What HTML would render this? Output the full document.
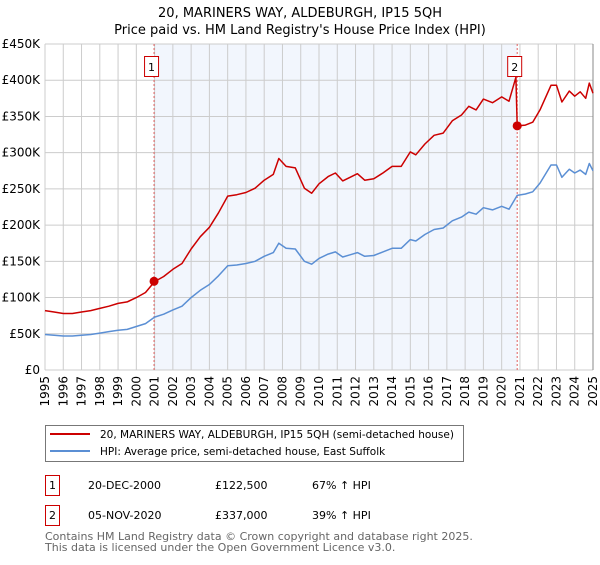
<!DOCTYPE html>
<html><head><meta charset="utf-8"><style>
body{margin:0;background:#fff;}
svg text{font-family:"DejaVu Sans","Liberation Sans",sans-serif;}
</style></head><body>
<svg id="chart" width="600" height="560" xmlns="http://www.w3.org/2000/svg">
<g id="plot"></g>
</svg>
<script>
const hpiYears=[1995.0,1995.5,1996.0,1996.5,1997.0,1997.5,1998.0,1998.5,1999.0,1999.5,2000.0,2000.5,2001.0,2001.5,2002.0,2002.5,2003.0,2003.5,2004.0,2004.5,2005.0,2005.5,2006.0,2006.5,2007.0,2007.5,2007.8,2008.2,2008.7,2009.2,2009.6,2010.0,2010.5,2010.9,2011.3,2011.7,2012.1,2012.5,2013.0,2013.5,2014.0,2014.5,2015.0,2015.3,2015.8,2016.3,2016.8,2017.3,2017.8,2018.2,2018.6,2019.0,2019.5,2020.0,2020.4,2020.85,2021.3,2021.7,2022.1,2022.7,2023.0,2023.3,2023.7,2024.0,2024.3,2024.6,2024.8,2025.0];
const hpiValues=[49,48,47,47,48,49,51,53,55,56,60,64,73,77,83,88,100,110,118,130,144,145,147,150,157,162,175,168,167,150,146,154,160,163,156,159,162,157,158,163,168,168,180,178,187,194,196,206,211,218,215,224,221,226,222,241,243,246,258,283,283,266,277,272,276,270,285,275];
const priceYears=[1995.0,1995.5,1996.0,1996.5,1997.0,1997.5,1998.0,1998.5,1999.0,1999.5,2000.0,2000.5,2001.0,2001.5,2002.0,2002.5,2003.0,2003.5,2004.0,2004.5,2005.0,2005.5,2006.0,2006.5,2007.0,2007.5,2007.8,2008.2,2008.7,2009.2,2009.6,2010.0,2010.5,2010.9,2011.3,2011.7,2012.1,2012.5,2013.0,2013.5,2014.0,2014.5,2015.0,2015.3,2015.8,2016.3,2016.8,2017.3,2017.8,2018.2,2018.6,2019.0,2019.5,2020.0,2020.4,2020.78,2020.85,2021.3,2021.7,2022.1,2022.7,2023.0,2023.3,2023.7,2024.0,2024.3,2024.6,2024.8,2025.0];
const priceValues=[82,80,78,78,80,82,85,88,92,94,100,107,122,129,139,147,167,184,197,217,240,242,245,251,262,270,292,281,279,251,244,257,267,272,261,266,271,262,264,272,281,281,301,297,312,324,327,344,352,364,359,374,369,377,371,404,337,338,342,359,393,393,370,385,378,384,375,396,382];
const saleYears=[2000.97,2020.85];
const saleValues=[122.5,337];
const saleLabels=["1","2"];
const yTicks=[0,50,100,150,200,250,300,350,400,450];
const yTickLabels=["£0","£50K","£100K","£150K","£200K","£250K","£300K","£350K","£400K","£450K"];
const xTicks=[1995,1996,1997,1998,1999,2000,2001,2002,2003,2004,2005,2006,2007,2008,2009,2010,2011,2012,2013,2014,2015,2016,2017,2018,2019,2020,2021,2022,2023,2024,2025];

const NS="http://www.w3.org/2000/svg";
const svg=document.getElementById('chart');
const X0=45,X1=593,Y0=370,Y1=44;
const xs=y=>X0+(y-1995)/30*(X1-X0);
const ys=v=>Y0-v/450*(Y0-Y1);
function mk(tag,attrs,parent){const e=document.createElementNS(NS,tag);for(const k in attrs)e.setAttribute(k,attrs[k]);(parent||svg).appendChild(e);return e;}

let e;
e=mk('text',{x:300,y:17,'text-anchor':'middle','font-size':13,fill:'#000'});e.textContent='20, MARINERS WAY, ALDEBURGH, IP15 5QH';


e=mk('text',{x:300,y:34,'text-anchor':'middle','font-size':13,fill:'#000'});e.textContent="Price paid vs. HM Land Registry's House Price Index (HPI)";



e=mk('rect',{x:X0,y:Y1,width:X1-X0,height:Y0-Y1,fill:'#fff'});


e=mk('rect',{x:xs(saleYears[0]),y:Y1,width:xs(saleYears[1])-xs(saleYears[0]),height:Y0-Y1,fill:'#f2f6fd'});



yTicks.forEach((t,i)=>{
  e=mk('line',{x1:X0,x2:X1,y1:ys(t),y2:ys(t),stroke:'#cccccc','stroke-width':1});
  
  
  e=mk('text',{x:X0-5,y:ys(t)+4,'text-anchor':'end','font-size':12,fill:'#000'});e.textContent=yTickLabels[i];
  
  
});
xTicks.forEach(t=>{
  e=mk('line',{x1:xs(t),x2:xs(t),y1:Y1,y2:Y0,stroke:'#cccccc','stroke-width':1});
  
  
  e=mk('text',{x:0,y:0,'text-anchor':'end','font-size':12,fill:'#000',transform:`translate(${xs(t)+4},${Y0+6}) rotate(-90)`});e.textContent=t;
  
  
});
e=mk('line',{x1:X1,x2:X1,y1:Y1,y2:Y0,stroke:'#888','stroke-width':1});



saleYears.forEach((y,i)=>{
  e=mk('line',{x1:xs(y),x2:xs(y),y1:Y1,y2:Y0,stroke:'#e06060','stroke-width':1,'stroke-dasharray':'2,2'});
  
  
});

function path(xa,va,color,name){
  const d=xa.map((x,i)=>(i?'L':'M')+xs(x).toFixed(1)+','+ys(va[i]).toFixed(1)).join('');
  const p=mk('path',{d,fill:'none',stroke:color,'stroke-width':1.5,'stroke-linejoin':'round'});
  
  
}
path(hpiYears,hpiValues,'#5b8fd4','hpi-line');
path(priceYears,priceValues,'#cc0000','price-paid-line');

saleYears.forEach((y,i)=>{
  e=mk('circle',{cx:xs(y),cy:ys(saleValues[i]),r:4.5,fill:'#cc0000'});
  
  
  const bx=xs(y)-10;
  e=mk('rect',{x:bx+0.5,y:56.5,width:14,height:20,fill:'#fff',stroke:'#cc0000','stroke-width':1});
  
  
  e=mk('text',{x:bx+7.5,y:71,'text-anchor':'middle','font-size':11,fill:'#000'});e.textContent=saleLabels[i];
  
  
});

// legend
e=mk('rect',{x:45.5,y:425.5,width:418,height:36,fill:'#fff',stroke:'#777','stroke-width':1});


e=mk('line',{x1:50,x2:90,y1:434,y2:434,stroke:'#cc0000','stroke-width':2});


e=mk('text',{x:100,y:438,'font-size':10.5,fill:'#000'});e.textContent='20, MARINERS WAY, ALDEBURGH, IP15 5QH (semi-detached house)';


e=mk('line',{x1:50,x2:90,y1:451,y2:451,stroke:'#5b8fd4','stroke-width':2});


e=mk('text',{x:100,y:455,'font-size':10.5,fill:'#000'});e.textContent='HPI: Average price, semi-detached house, East Suffolk';



// table
const rows=[["1","20-DEC-2000","£122,500","67% ↑ HPI"],["2","05-NOV-2020","£337,000","39% ↑ HPI"]];
rows.forEach((r,i)=>{
  const y0=475+i*30;
  e=mk('rect',{x:45.5,y:y0+0.5,width:14,height:20,fill:'#fff',stroke:'#cc0000','stroke-width':1});
  
  
  e=mk('text',{x:52.5,y:y0+14,'text-anchor':'middle','font-size':11,fill:'#000'});e.textContent=r[0];
  
  
  [[88,1],[215,2],[312,3]].forEach(([x,k])=>{
    e=mk('text',{x,y:y0+14,'font-size':11,fill:'#000'});e.textContent=r[k];
    
    
  });
});
e=mk('text',{x:45,y:540,'font-size':11,fill:'#666'});e.textContent='Contains HM Land Registry data © Crown copyright and database right 2025.';


e=mk('text',{x:45,y:551,'font-size':11,fill:'#666'});e.textContent='This data is licensed under the Open Government Licence v3.0.';


</script>
</body></html>
